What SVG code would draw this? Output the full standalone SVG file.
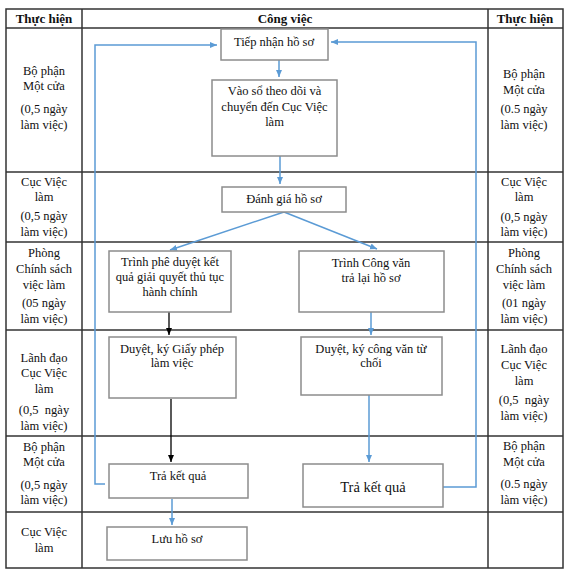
<svg xmlns="http://www.w3.org/2000/svg" width="575" height="580" viewBox="0 0 575 580">
<defs>
<marker id="ab" markerWidth="8" markerHeight="8" refX="7" refY="4" orient="auto" markerUnits="userSpaceOnUse"><path d="M0,1 L7,4 L0,7 Z" fill="#5B9BD5"/></marker>
<marker id="ak" markerWidth="8" markerHeight="8" refX="7" refY="4" orient="auto" markerUnits="userSpaceOnUse"><path d="M0,1 L7,4 L0,7 Z" fill="#000"/></marker>
<style>
text{font-family:"Liberation Serif","Times New Roman",serif;font-size:12.5px;fill:#111;text-anchor:middle}
.h{font-weight:bold;font-size:13px}
.grid{stroke:#333;stroke-width:1.5;fill:none}
.box{fill:#fff;stroke:#8c8c8c;stroke-width:1.5}
.bl{stroke:#5B9BD5;stroke-width:1.5;fill:none}
.bk{stroke:#000;stroke-width:1.3;fill:none}
</style>
</defs>
<rect width="575" height="580" fill="#fff"/>
<g id="table">
<rect class="grid" x="6" y="9" width="557" height="559"/>
<line class="grid" x1="82" y1="9" x2="82" y2="568"/>
<line class="grid" x1="488" y1="9" x2="488" y2="568"/>
<line class="grid" x1="6" y1="28" x2="563" y2="28"/>
<line class="grid" x1="6" y1="172" x2="563" y2="172"/>
<line class="grid" x1="6" y1="242" x2="563" y2="242"/>
<line class="grid" x1="6" y1="330" x2="563" y2="330"/>
<line class="grid" x1="6" y1="436" x2="563" y2="436"/>
<line class="grid" x1="6" y1="512" x2="563" y2="512"/>
<text class="h" x="44" y="23">Thực hiện</text>
<text class="h" x="285" y="23">Công việc</text>
<text class="h" x="525" y="23">Thực hiện</text>
<text x="44" y="75">Bộ phận</text><text x="44" y="90">Một cửa</text><text x="44" y="113">(0,5 ngày</text><text x="44" y="129">làm việc)</text>
<text x="524" y="78">Bộ phận</text><text x="524" y="94">Một cửa</text><text x="524" y="113">(0.5 ngày</text><text x="524" y="129">làm việc)</text>
<text x="44" y="186">Cục Việc</text><text x="44" y="201">làm</text><text x="44" y="220">(0,5 ngày</text><text x="44" y="236">làm việc)</text>
<text x="524" y="186">Cục Việc</text><text x="524" y="201">làm</text><text x="524" y="221">(0,5 ngày</text><text x="524" y="236">làm việc)</text>
<text x="44" y="257">Phòng</text><text x="44" y="273">Chính sách</text><text x="44" y="289">việc làm</text><text x="44" y="307">(05 ngày</text><text x="44" y="323">làm việc)</text>
<text x="524" y="257">Phòng</text><text x="524" y="273">Chính sách</text><text x="524" y="289">việc làm</text><text x="524" y="307">(01 ngày</text><text x="524" y="323">làm việc)</text>
<text x="44" y="362">Lãnh đạo</text><text x="44" y="377">Cục Việc</text><text x="44" y="393">làm</text><text x="44" y="414" xml:space="preserve">(0,5  ngày</text><text x="44" y="430">làm việc)</text>
<text x="524" y="353">Lãnh đạo</text><text x="524" y="369">Cục Việc</text><text x="524" y="385">làm</text><text x="524" y="404" xml:space="preserve">(0,5  ngày</text><text x="524" y="420">làm việc)</text>
<text x="44" y="451">Bộ phận</text><text x="44" y="466">Một cửa</text><text x="44" y="489">(0,5 ngày</text><text x="44" y="504">làm việc)</text>
<text x="524" y="450">Bộ phận</text><text x="524" y="466">Một cửa</text><text x="524" y="488">(0.5 ngày</text><text x="524" y="504">làm việc)</text>
<text x="44" y="536">Cục Việc</text><text x="44" y="552">làm</text>
</g>
<g id="connectors">
<line class="bl" x1="279" y1="60" x2="279" y2="77" marker-end="url(#ab)"/>
<line class="bl" x1="280" y1="156" x2="280" y2="184" marker-end="url(#ab)"/>
<line class="bl" x1="284" y1="212" x2="170" y2="250" marker-end="url(#ab)"/>
<line class="bl" x1="284" y1="212" x2="377" y2="249" marker-end="url(#ab)"/>
<line class="bk" x1="169" y1="312" x2="169" y2="335" marker-end="url(#ak)"/>
<line class="bl" x1="371" y1="312" x2="371" y2="335" marker-end="url(#ab)"/>
<line class="bk" x1="171" y1="399" x2="171" y2="462" marker-end="url(#ak)"/>
<line class="bl" x1="369" y1="395" x2="369" y2="462" marker-end="url(#ab)"/>
<line class="bl" x1="172" y1="499" x2="172" y2="525" marker-end="url(#ab)"/>
<polyline class="bl" points="105,484 95,484 95,45 217,45" marker-end="url(#ab)"/>
<polyline class="bl" points="443,487 476,487 476,42 331,42" marker-end="url(#ab)"/>
</g>
<g id="n1"><rect class="box" x="221" y="29" width="107" height="31"/><text x="274" y="46">Tiếp nhận hồ sơ</text></g>
<g id="n2"><rect class="box" x="212" y="80" width="125" height="76"/><text x="274.5" y="95">Vào sổ theo dõi và</text><text x="274.5" y="111">chuyển đến Cục Việc</text><text x="274.5" y="126">làm</text></g>
<g id="n3"><rect class="box" x="222" y="187" width="124" height="25"/><text x="284" y="203">Đánh giá hồ sơ</text></g>
<g id="n4"><rect class="box" x="109" y="251" width="122" height="61"/><text x="170" y="266">Trình phê duyệt kết</text><text x="170" y="281">quả giải quyết thủ tục</text><text x="170" y="296">hành chính</text></g>
<g id="n5"><rect class="box" x="299" y="251" width="145" height="61"/><text x="371" y="267">Trình Công văn</text><text x="371" y="282">trả lại hồ sơ</text></g>
<g id="n6"><rect class="box" x="109" y="337" width="127" height="61"/><text x="172" y="353">Duyệt, ký Giấy phép</text><text x="172" y="367">làm việc</text></g>
<g id="n7"><rect class="box" x="301" y="337" width="141" height="58"/><text x="371" y="353">Duyệt, ký công văn từ</text><text x="371" y="367">chối</text></g>
<g id="n8"><rect class="box" x="109" y="464" width="139" height="34"/><text x="178" y="480">Trả kết quả</text></g>
<g id="n9"><rect class="box" x="303" y="464" width="140" height="43"/><text x="373" y="492" style="font-size:14.5px">Trả kết quả</text></g>
<g id="n10"><rect class="box" x="107" y="527" width="140" height="33"/><text x="177" y="543">Lưu hồ sơ</text></g>
</svg>
